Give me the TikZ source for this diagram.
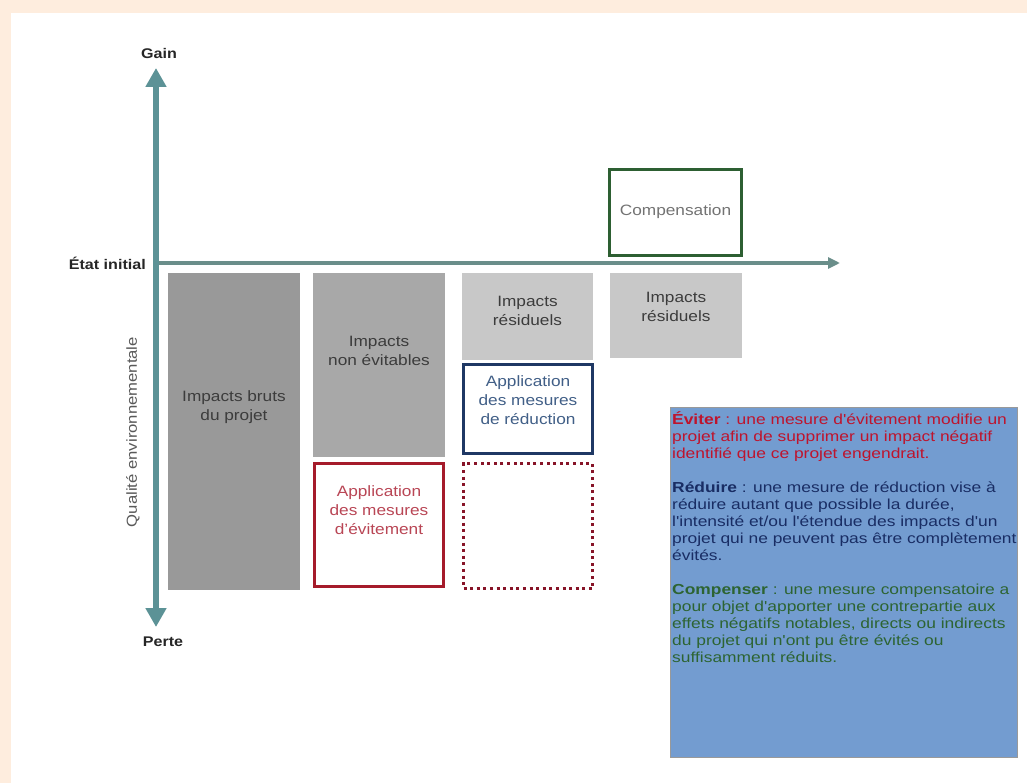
\documentclass[tikz,border=0pt]{standalone}
\usepackage{fontspec}
\setmainfont{Liberation Sans}[FakeStretch=1.15]
\newfontfamily\panelfont{Liberation Sans}[FakeStretch=1.2]
\usetikzlibrary{arrows.meta}
\definecolor{peach}{RGB}{254,237,222}
\definecolor{axisv}{RGB}{92,146,150}
\definecolor{axish}{RGB}{106,142,138}
\definecolor{gdark}{RGB}{153,153,153}
\definecolor{gmid}{RGB}{168,168,168}
\definecolor{glight}{RGB}{200,200,200}
\definecolor{labtxt}{RGB}{60,60,60}
\definecolor{evred}{RGB}{165,27,42}
\definecolor{evtxt}{RGB}{185,70,85}
\definecolor{rednavy}{RGB}{31,56,100}
\definecolor{redtxt}{RGB}{65,95,135}
\definecolor{dotred}{RGB}{135,20,40}
\definecolor{compgreen}{RGB}{45,95,50}
\definecolor{comptxt}{RGB}{115,115,115}
\definecolor{panel}{RGB}{115,156,208}
\definecolor{tred}{RGB}{190,20,45}
\definecolor{tnavy}{RGB}{25,45,100}
\definecolor{tgreen}{RGB}{45,100,50}
\begin{document}
\begin{tikzpicture}[x=1pt,y=-1pt,
  blk/.style={rectangle, inner sep=0pt, outer sep=0pt},
  framed/.style={blk, fill=white, line width=3pt},
  lbl/.style={align=center, font=\fontsize{15}{19}\selectfont, text=labtxt, inner sep=0pt},
  axlbl/.style={font=\fontsize{14}{16}\selectfont\bfseries, text=black!85, inner sep=0pt},
  ptxt/.style={anchor=base west, inner sep=0pt, font=\fontsize{14.5}{17}\panelfont}]
\fill[peach] (0,0) rectangle (1027,783);
\fill[white] (11,13) rectangle (1027,783);
\useasboundingbox (0,0) rectangle (1027,783);

% axes
\coordinate (vtop) at (156,68);
\coordinate (vbot) at (156,627);
\coordinate (orig) at (156,263);
\coordinate (hend) at (840,263);
\draw[axish, line width=4pt, -{Triangle[length=12pt,width=11pt]}] (orig) -- (hend);
\draw[axisv, line width=6pt, {Triangle[length=19pt,width=20pt]}-{Triangle[length=19pt,width=20pt]}] (vbot) -- (vtop);

\node[axlbl] (gain) at (159,54) {Gain};
\node[axlbl] (perte) at (163,642) {Perte};
\node[axlbl, anchor=east] (etat) at (146,263) {État initial};
\node[rotate=90, inner sep=0pt, font=\fontsize{14.5}{16}\selectfont, text=black!65] (qual) at (133,432) {Qualité environnementale};

% boxes
\node[blk, fill=gdark, minimum width=132pt, minimum height=317pt] (bruts) at (234,431.5) {};
\node[blk, fill=gmid, minimum width=132pt, minimum height=184pt] (nonev) at (379,365) {};
\node[framed, draw=evred, minimum width=129pt, minimum height=123pt] (evit) at (379,525) {};
\node[blk, fill=glight, minimum width=131pt, minimum height=87pt] (resa) at (527.5,316.5) {};
\node[framed, draw=rednavy, minimum width=129pt, minimum height=89pt] (reduc) at (528,409) {};
\node[blk, draw=dotred, line width=3pt, dash pattern=on 3pt off 3.6pt, minimum width=129pt, minimum height=125pt] (dots) at (528,526) {};
\node[blk, fill=glight, minimum width=132pt, minimum height=85pt] (resb) at (676,315.5) {};
\node[framed, draw=compgreen, minimum width=132pt, minimum height=86pt] (comp) at (675.5,212.5) {};

% box labels
\node[lbl] (lbruts) at (234,407.5) {Impacts bruts\\du projet};
\node[lbl] (lnonev) at (379,351) {Impacts\\non évitables};
\node[lbl, text=evtxt] (levit) at (379,510) {Application\\des mesures\\d'évitement};
\node[lbl] (lresa) at (527.5,310.5) {Impacts\\résiduels};
\node[lbl, text=redtxt] (lreduc) at (528,400) {Application\\des mesures\\de réduction};
\node[lbl] (lresb) at (676,306.5) {Impacts\\résiduels};
\node[lbl, text=comptxt] (lcomp) at (675.5,212) {Compensation};

% definition panel
\node[blk, fill=panel, draw=black!40, line width=1pt, minimum width=347pt, minimum height=350pt] (panelbox) at (843.5,582) {};
\node[ptxt, text=tred] (t1) at (672,424) {\textbf{Éviter} : une mesure d'évitement modifie un};
\node[ptxt, text=tred] (t2) at (672,441) {projet afin de supprimer un impact négatif};
\node[ptxt, text=tred] (t3) at (672,458) {identifié que ce projet engendrait.};
\node[ptxt, text=tnavy] (t4) at (672,492) {\textbf{Réduire} : une mesure de réduction vise à};
\node[ptxt, text=tnavy] (t5) at (672,509) {réduire autant que possible la durée,};
\node[ptxt, text=tnavy] (t6) at (672,526) {l'intensité et/ou l'étendue des impacts d'un};
\node[ptxt, text=tnavy] (t7) at (672,543) {projet qui ne peuvent pas être complètement};
\node[ptxt, text=tnavy] (t8) at (672,560) {évités.};
\node[ptxt, text=tgreen] (t9) at (672,594) {\textbf{Compenser} : une mesure compensatoire a};
\node[ptxt, text=tgreen] (t10) at (672,611) {pour objet d'apporter une contrepartie aux};
\node[ptxt, text=tgreen] (t11) at (672,628) {effets négatifs notables, directs ou indirects};
\node[ptxt, text=tgreen] (t12) at (672,645) {du projet qui n'ont pu être évités ou};
\node[ptxt, text=tgreen] (t13) at (672,662) {suffisamment réduits.};
\end{tikzpicture}
\end{document}
